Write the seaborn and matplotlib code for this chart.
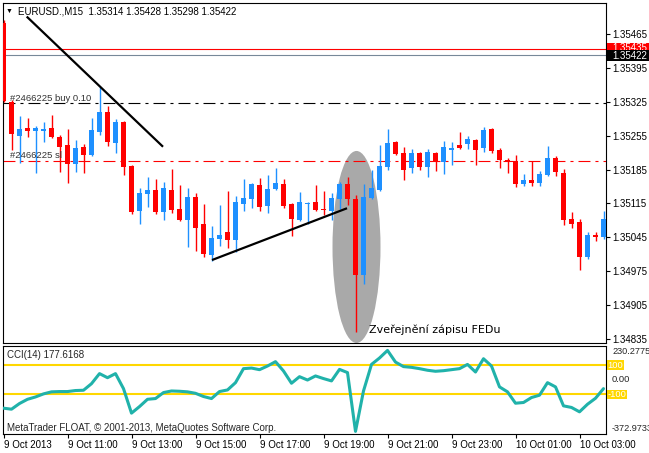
import numpy as np
import pandas as pd
import matplotlib
matplotlib.use("Agg")
import matplotlib.pyplot as plt
import seaborn as sns
from matplotlib.patches import Ellipse, Rectangle
from matplotlib.transforms import blended_transform_factory

sns.set_style("white")
plt.rcParams['font.family'] = ['Liberation Sans', 'DejaVu Sans']
plt.rcParams['lines.scale_dashes'] = False

# ---------------- data (EURUSD M15, 9 Oct 2013 09:00 ...) ----------------
opens = [1.35488, 1.35325, 1.35254, 1.35271, 1.35265, 1.35265, 1.35271, 1.35252, 1.35236, 1.35196,
         1.35232, 1.35215, 1.35263, 1.35304, 1.35240, 1.35283, 1.35192, 1.35099, 1.35134, 1.35143,
         1.35097, 1.35143, 1.35103, 1.35081, 1.35128, 1.35072, 1.35008, 1.35041, 1.35056, 1.35039,
         1.35114, 1.35124, 1.35153, 1.35110, 1.35145, 1.35155, 1.35114, 1.35081, 1.35114, 1.35118,
         1.35103, 1.35099, 1.35124, 1.35155, 1.35124, 1.34967, 1.35126, 1.35143, 1.35190, 1.35242,
         1.35219, 1.35188, 1.35219, 1.35190, 1.35219, 1.35201, 1.35225, 1.35236, 1.35238, 1.35246,
         1.35229, 1.35269, 1.35225, 1.35205, 1.35203, 1.35155, 1.35163, 1.35157, 1.35174, 1.35209,
         1.35178, 1.35083, 1.35077, 1.35004, 1.35050, 1.35046]
highs = [1.35494, 1.35329, 1.35296, 1.35291, 1.35275, 1.35283, 1.35298, 1.35256, 1.35269, 1.35246,
         1.35238, 1.35291, 1.35356, 1.35316, 1.35289, 1.35285, 1.35194, 1.35147, 1.35170, 1.35165,
         1.35159, 1.35186, 1.35153, 1.35147, 1.35137, 1.35114, 1.35068, 1.35112, 1.35141, 1.35130,
         1.35165, 1.35157, 1.35167, 1.35174, 1.35188, 1.35165, 1.35116, 1.35139, 1.35118, 1.35153,
         1.35141, 1.35137, 1.35159, 1.35170, 1.35132, 1.35155, 1.35184, 1.35236, 1.35269, 1.35244,
         1.35232, 1.35227, 1.35221, 1.35227, 1.35221, 1.35244, 1.35242, 1.35263, 1.35254, 1.35248,
         1.35273, 1.35271, 1.35229, 1.35209, 1.35215, 1.35176, 1.35203, 1.35182, 1.35234, 1.35213,
         1.35186, 1.35097, 1.35083, 1.35056, 1.35056, 1.35099]
lows = [1.35325, 1.35225, 1.35198, 1.35252, 1.35178, 1.35242, 1.35250, 1.35180, 1.35157, 1.35180,
        1.35178, 1.35213, 1.35256, 1.35234, 1.35219, 1.35174, 1.35093, 1.35072, 1.35108, 1.35093,
        1.35081, 1.35095, 1.35079, 1.35025, 1.35017, 1.35004, 1.34996, 1.35027, 1.35023, 1.35015,
        1.35099, 1.35106, 1.35099, 1.35095, 1.35143, 1.35106, 1.35048, 1.35079, 1.35072, 1.35099,
        1.35091, 1.35081, 1.35103, 1.35112, 1.34849, 1.34949, 1.35124, 1.35141, 1.35184, 1.35215,
        1.35163, 1.35178, 1.35184, 1.35170, 1.35182, 1.35176, 1.35194, 1.35227, 1.35227, 1.35194,
        1.35221, 1.35219, 1.35188, 1.35178, 1.35149, 1.35151, 1.35151, 1.35151, 1.35172, 1.35172,
        1.35070, 1.35064, 1.34977, 1.35000, 1.35037, 1.35041]
closes = [1.35327, 1.35258, 1.35269, 1.35265, 1.35271, 1.35269, 1.35252, 1.35232, 1.35196, 1.35229,
          1.35215, 1.35267, 1.35304, 1.35242, 1.35283, 1.35190, 1.35097, 1.35137, 1.35143, 1.35097,
          1.35147, 1.35101, 1.35081, 1.35128, 1.35064, 1.35011, 1.35044, 1.35050, 1.35039, 1.35118,
          1.35126, 1.35155, 1.35108, 1.35145, 1.35157, 1.35110, 1.35083, 1.35118, 1.35116, 1.35101,
          1.35101, 1.35126, 1.35155, 1.35124, 1.34967, 1.35128, 1.35147, 1.35192, 1.35240, 1.35217,
          1.35184, 1.35219, 1.35190, 1.35221, 1.35201, 1.35232, 1.35229, 1.35229, 1.35248, 1.35225,
          1.35267, 1.35223, 1.35205, 1.35203, 1.35155, 1.35163, 1.35157, 1.35176, 1.35209, 1.35180,
          1.35081, 1.35072, 1.35004, 1.35050, 1.35046, 1.35083]
cci = [-196, -203, -164, -135, -119, -98, -84, -82, -82, -75,
       -73, -28, 41, 13, 41, -62, -230, -185, -135, -130,
       -89, -78, -80, -84, -94, -116, -130, -82, -71, -21,
       75, 79, 68, 93, 123, 59, -25, 20, -3, 25,
       7, -9, 70, 48, -355, -78, 104, 148, 200, 120,
       89, 84, 75, 64, 57, 61, 68, 75, 104, 52,
       143, 93, -50, -84, -162, -157, -123, -107, -21, -50,
       -180, -191, -221, -169, -128, -62]

x_tick_pos = [0, 8, 16, 24, 32, 40, 48, 56, 64, 72]
x_tick_labels = ["9 Oct 2013", "9 Oct 11:00", "9 Oct 13:00", "9 Oct 15:00", "9 Oct 17:00",
                 "9 Oct 19:00", "9 Oct 21:00", "9 Oct 23:00", "10 Oct 01:00", "10 Oct 03:00"]
price_ticks = [1.35465, 1.35395, 1.35325, 1.35255, 1.35185, 1.35115, 1.35045, 1.34975, 1.34905, 1.34835]
cci_range = (-372.9733, 230.2775)
cci_levels = [100, -100]

bid_price = 1.35422
ask_price = 1.35435
buy_price = 1.35322
sl_price = 1.35203
trend1 = ([2.9, 19.94], [1.35501, 1.35232])
trend2 = ([26.06, 42.94], [1.34998, 1.35105])

df = pd.DataFrame({"i": np.arange(len(opens)), "open": opens, "high": highs,
                   "low": lows, "close": closes, "cci": cci})

RED = "#FF0000"
BLUE = "#1E90FF"

# ---------------- layout ----------------
W, H = 649, 453
fig = plt.figure(figsize=(W / 100, H / 100), dpi=100)
fig.patch.set_facecolor("white")


def frame(l, t, r, b):
    return [l / W, 1 - b / H, (r - l) / W, (b - t) / H]


ax = fig.add_axes(frame(3, 3, 606, 343))
ax2 = fig.add_axes(frame(3, 346, 606, 434))
xl = (-0.0625, 75.3125)

# ---------------- main price panel ----------------
ax.set_xlim(*xl)
ax.set_ylim(1.348266, 1.355290)

ax.add_patch(Ellipse((44.125, 1.35025), 6.0, 0.003967, facecolor="#A9A9A9",
                     edgecolor="none", zorder=1))

ax.axhline(ask_price, color=RED, lw=0.8, zorder=2)
ax.axhline(bid_price, color="#778899", lw=0.8, zorder=2)
ax.axhline(buy_price, color="black", lw=0.8, zorder=2,
           linestyle=(0, (8.6, 3.6, 2.2, 3.6)))
ax.axhline(sl_price, color=RED, lw=0.8, zorder=2,
           linestyle=(0, (8.6, 3.6, 2.2, 3.6)))

cols = [RED if c < o else BLUE for o, c in zip(df["open"], df["close"])]
bottoms = np.minimum(df["open"], df["close"])
heights = np.maximum(np.abs(df["close"] - df["open"]), 1.3e-5)
ax.vlines(df["i"], df["low"], df["high"], colors=cols, linewidth=1.0, zorder=3)
ax.bar(df["i"], heights, bottom=bottoms, width=0.625, color=cols, linewidth=0, zorder=4)

ax.plot(*trend1, color="black", lw=1.6, zorder=5, solid_capstyle="butt")
ax.plot(*trend2, color="black", lw=1.6, zorder=5, solid_capstyle="butt")

ax.text(0.81, buy_price + 0.00005, "#2466225 buy 0.10", fontsize=6.8, color="#333333",
        va="baseline", ha="left", zorder=6)
ax.text(0.81, sl_price + 0.00005, "#2466225 sl", fontsize=6.8, color="#333333",
        va="baseline", ha="left", zorder=6)
ax.text(45.69, 1.34853, "Zveřejnění zápisu FEDu", fontsize=8, color="black",
        va="center", ha="left", family=["DejaVu Sans"], zorder=6)

ax.set_xticks([])
ax.yaxis.tick_right()
ax.set_yticks(price_ticks)
ax.set_yticklabels([f"{p:.5f}" for p in price_ticks])
ax.tick_params(axis="y", direction="out", length=3, width=0.8, pad=1.5,
               labelsize=7, colors="black", right=True, left=False)
for s in ax.spines.values():
    s.set_color("black")
    s.set_linewidth(0.8)

bt = blended_transform_factory(ax.transAxes, ax.transData)
ax.add_patch(Rectangle((1.0017, 1.35426), 0.08, 0.00020, transform=bt, facecolor=RED,
                       edgecolor="none", clip_on=False, zorder=7))
ax.text(1.0100, 1.35437, f"{ask_price:.5f}", transform=bt, color="white", fontsize=7,
        va="center", ha="left", clip_on=False, zorder=8)
ax.add_patch(Rectangle((1.0017, 1.35409), 0.08, 0.00022, transform=bt, facecolor="black",
                       edgecolor="none", clip_on=False, zorder=9))
ax.text(1.0100, 1.35420, f"{bid_price:.5f}", transform=bt, color="white", fontsize=7,
        va="center", ha="left", clip_on=False, zorder=10)

fig.text(18 / W, 1 - 11 / H, "EURUSD.,M15  1.35314 1.35428 1.35298 1.35422",
         fontsize=7, va="center", ha="left", color="black")
fig.text(9 / W, 1 - 11 / H, "▼", fontsize=5, va="center", ha="center", color="black")

# ---------------- CCI panel ----------------
ax2.set_xlim(*xl)
ax2.set_ylim(*cci_range)
for lv in cci_levels:
    ax2.axhline(lv, color="#FFD700", lw=1.5, zorder=2)
sns.lineplot(data=df, x="i", y="cci", ax=ax2, color="#20B2AA", linewidth=2.2, zorder=3)
ax2.set_xlabel("")
ax2.set_ylabel("")
ax2.set_yticks([])
ax2.set_xticks(x_tick_pos)
ax2.set_xticklabels(x_tick_labels, ha="left")
ax2.tick_params(axis="x", direction="out", length=3, width=0.8, pad=1.5,
                labelsize=7, colors="black", bottom=True)
for s in ax2.spines.values():
    s.set_color("black")
    s.set_linewidth(0.8)

ax2.text(0.0066, 0.898, "CCI(14) 177.6168", transform=ax2.transAxes, fontsize=7,
         va="center", ha="left")
ax2.text(0.0066, 0.068, "MetaTrader FLOAT, © 2001-2013, MetaQuotes Software Corp.",
         transform=ax2.transAxes, fontsize=7, va="center", ha="left")

bt2 = blended_transform_factory(ax2.transAxes, ax2.transData)
ax2.text(1.0100, cci_range[1] - 10, "230.2775", transform=bt2, fontsize=6.6, va="top",
         ha="left", clip_on=False)
ax2.text(1.0100, 0, "0.00", transform=bt2, fontsize=6.8, va="center", ha="left", clip_on=False)
ax2.text(1.0100, cci_range[0] + 10, "-372.9733", transform=bt2, fontsize=6.6, va="bottom",
         ha="left", clip_on=False)
for lv, w in zip(cci_levels, [0.028, 0.033]):
    ax2.add_patch(Rectangle((1.0017, lv - 31), w, 62, transform=bt2, facecolor="#FFD700",
                            edgecolor="none", clip_on=False, zorder=7))
    ax2.text(1.0017 + w / 2, lv, f"{lv}", transform=bt2, fontsize=6.8, color="white",
             va="center", ha="center", clip_on=False, zorder=8)

fig.savefig("out.png", dpi=100, facecolor="white")
